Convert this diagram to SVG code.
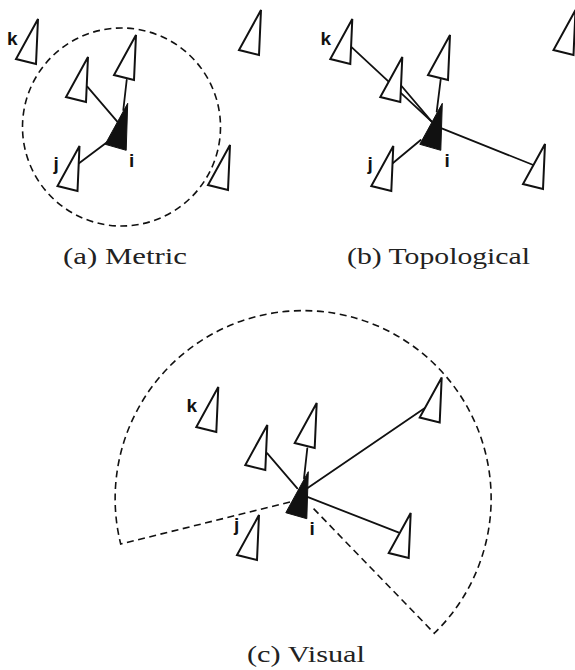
<svg xmlns="http://www.w3.org/2000/svg" xmlns:xlink="http://www.w3.org/1999/xlink" width="575" height="670" viewBox="0 0 575 670">
<style>
.tri{fill:#fff;stroke:#111;stroke-width:2;stroke-linejoin:miter}
.me{fill:#111;stroke:#111;stroke-width:1}
.ln{stroke:#111;stroke-width:1.8;fill:none;stroke-linecap:round}
.dash{stroke:#111;stroke-width:1.6;fill:none;stroke-dasharray:7 4.5}
.lbl{font-family:"Liberation Sans",Arial,sans-serif;font-size:19px;font-weight:bold;fill:#111}
.cap{font-family:"Liberation Serif","Times New Roman",serif;font-size:23px;fill:#222}
</style>
<defs>
<path id="tri" d="M0,0 L-22,40 L-2,45 Z"/>
<path id="me" d="M0,0 L-22.5,41 L-1.5,47 Z"/>
</defs>
<rect width="575" height="670" fill="#fff"/>

<!-- Panel (a) Metric -->
<g id="a-range"><circle class="dash" cx="121.5" cy="127" r="99"/></g>
<g id="a-connectors">
<line class="ln" x1="87.3" y1="86.7" x2="117.3" y2="121.7"/>
<line class="ln" x1="126.7" y1="80" x2="123.3" y2="110"/>
<line class="ln" x1="79" y1="163.3" x2="110" y2="140"/>
</g>
<g id="a-k"><use href="#tri" class="tri" x="38" y="19"/><text class="lbl" x="7" y="45">k</text></g>
<g id="a-n1"><use href="#tri" class="tri" x="261" y="10"/></g>
<g id="a-n2"><use href="#tri" class="tri" x="136" y="35"/></g>
<g id="a-n3"><use href="#tri" class="tri" x="88" y="57"/></g>
<g id="a-n4"><use href="#tri" class="tri" x="230" y="145"/></g>
<g id="a-j"><use href="#tri" class="tri" x="79.5" y="146"/><text class="lbl" x="53.5" y="170">j</text></g>
<g id="a-i"><use href="#me" class="me" x="127.7" y="103.3"/><text class="lbl" x="129" y="167">i</text></g>
<g id="a-caption"><text class="cap" x="63" y="263.5" textLength="124" lengthAdjust="spacingAndGlyphs">(a) Metric</text></g>

<!-- Panel (b) Topological -->
<g id="b-connectors">
<line class="ln" x1="351" y1="46.7" x2="431.7" y2="121.7"/>
<line class="ln" x1="400.7" y1="85" x2="431.7" y2="121.7"/>
<line class="ln" x1="440.7" y1="79.3" x2="436.7" y2="111.7"/>
<line class="ln" x1="441.7" y1="128.3" x2="533.3" y2="165"/>
<line class="ln" x1="392.7" y1="163.3" x2="420.7" y2="140"/>
</g>
<g id="b-k"><use href="#tri" class="tri" x="352.3" y="19"/><text class="lbl" x="320.5" y="45">k</text></g>
<g id="b-n1"><use href="#tri" class="tri" x="402.3" y="57"/></g>
<g id="b-n2"><use href="#tri" class="tri" x="450" y="35"/></g>
<g id="b-n3"><use href="#tri" class="tri" x="575.5" y="10"/></g>
<g id="b-n4"><use href="#tri" class="tri" x="545" y="144"/></g>
<g id="b-j"><use href="#tri" class="tri" x="393.3" y="146"/><text class="lbl" x="367.5" y="170">j</text></g>
<g id="b-i"><use href="#me" class="me" x="442.3" y="103.3"/><text class="lbl" x="444.5" y="167">i</text></g>
<g id="b-caption"><text class="cap" x="347" y="263.5" textLength="183" lengthAdjust="spacingAndGlyphs">(b) Topological</text></g>

<!-- Panel (c) Visual -->
<g id="c-range"><path class="dash" d="M290,502 L120.7,544 A188,188 0 1 1 434.3,633.3 L312,507"/></g>
<g id="c-connectors">
<line class="ln" x1="267.3" y1="453.3" x2="297.3" y2="488.3"/>
<line class="ln" x1="307.3" y1="448.3" x2="304" y2="478.3"/>
<line class="ln" x1="307.3" y1="488.3" x2="426" y2="407.3"/>
<line class="ln" x1="306.7" y1="496.7" x2="398.3" y2="532.3"/>
</g>
<g id="c-k"><use href="#tri" class="tri" x="218.3" y="387"/><text class="lbl" x="186.5" y="412">k</text></g>
<g id="c-n1"><use href="#tri" class="tri" x="267.3" y="425"/></g>
<g id="c-n2"><use href="#tri" class="tri" x="316.7" y="403"/></g>
<g id="c-n3"><use href="#tri" class="tri" x="441.7" y="377.5"/></g>
<g id="c-n4"><use href="#tri" class="tri" x="410.7" y="513"/></g>
<g id="c-j"><use href="#tri" class="tri" x="259" y="515"/><text class="lbl" x="234" y="531">j</text></g>
<g id="c-i"><use href="#me" class="me" x="308.3" y="471.7"/><text class="lbl" x="309.5" y="535">i</text></g>
<g id="c-caption"><text class="cap" x="247" y="661.5" textLength="118" lengthAdjust="spacingAndGlyphs">(c) Visual</text></g>
</svg>
